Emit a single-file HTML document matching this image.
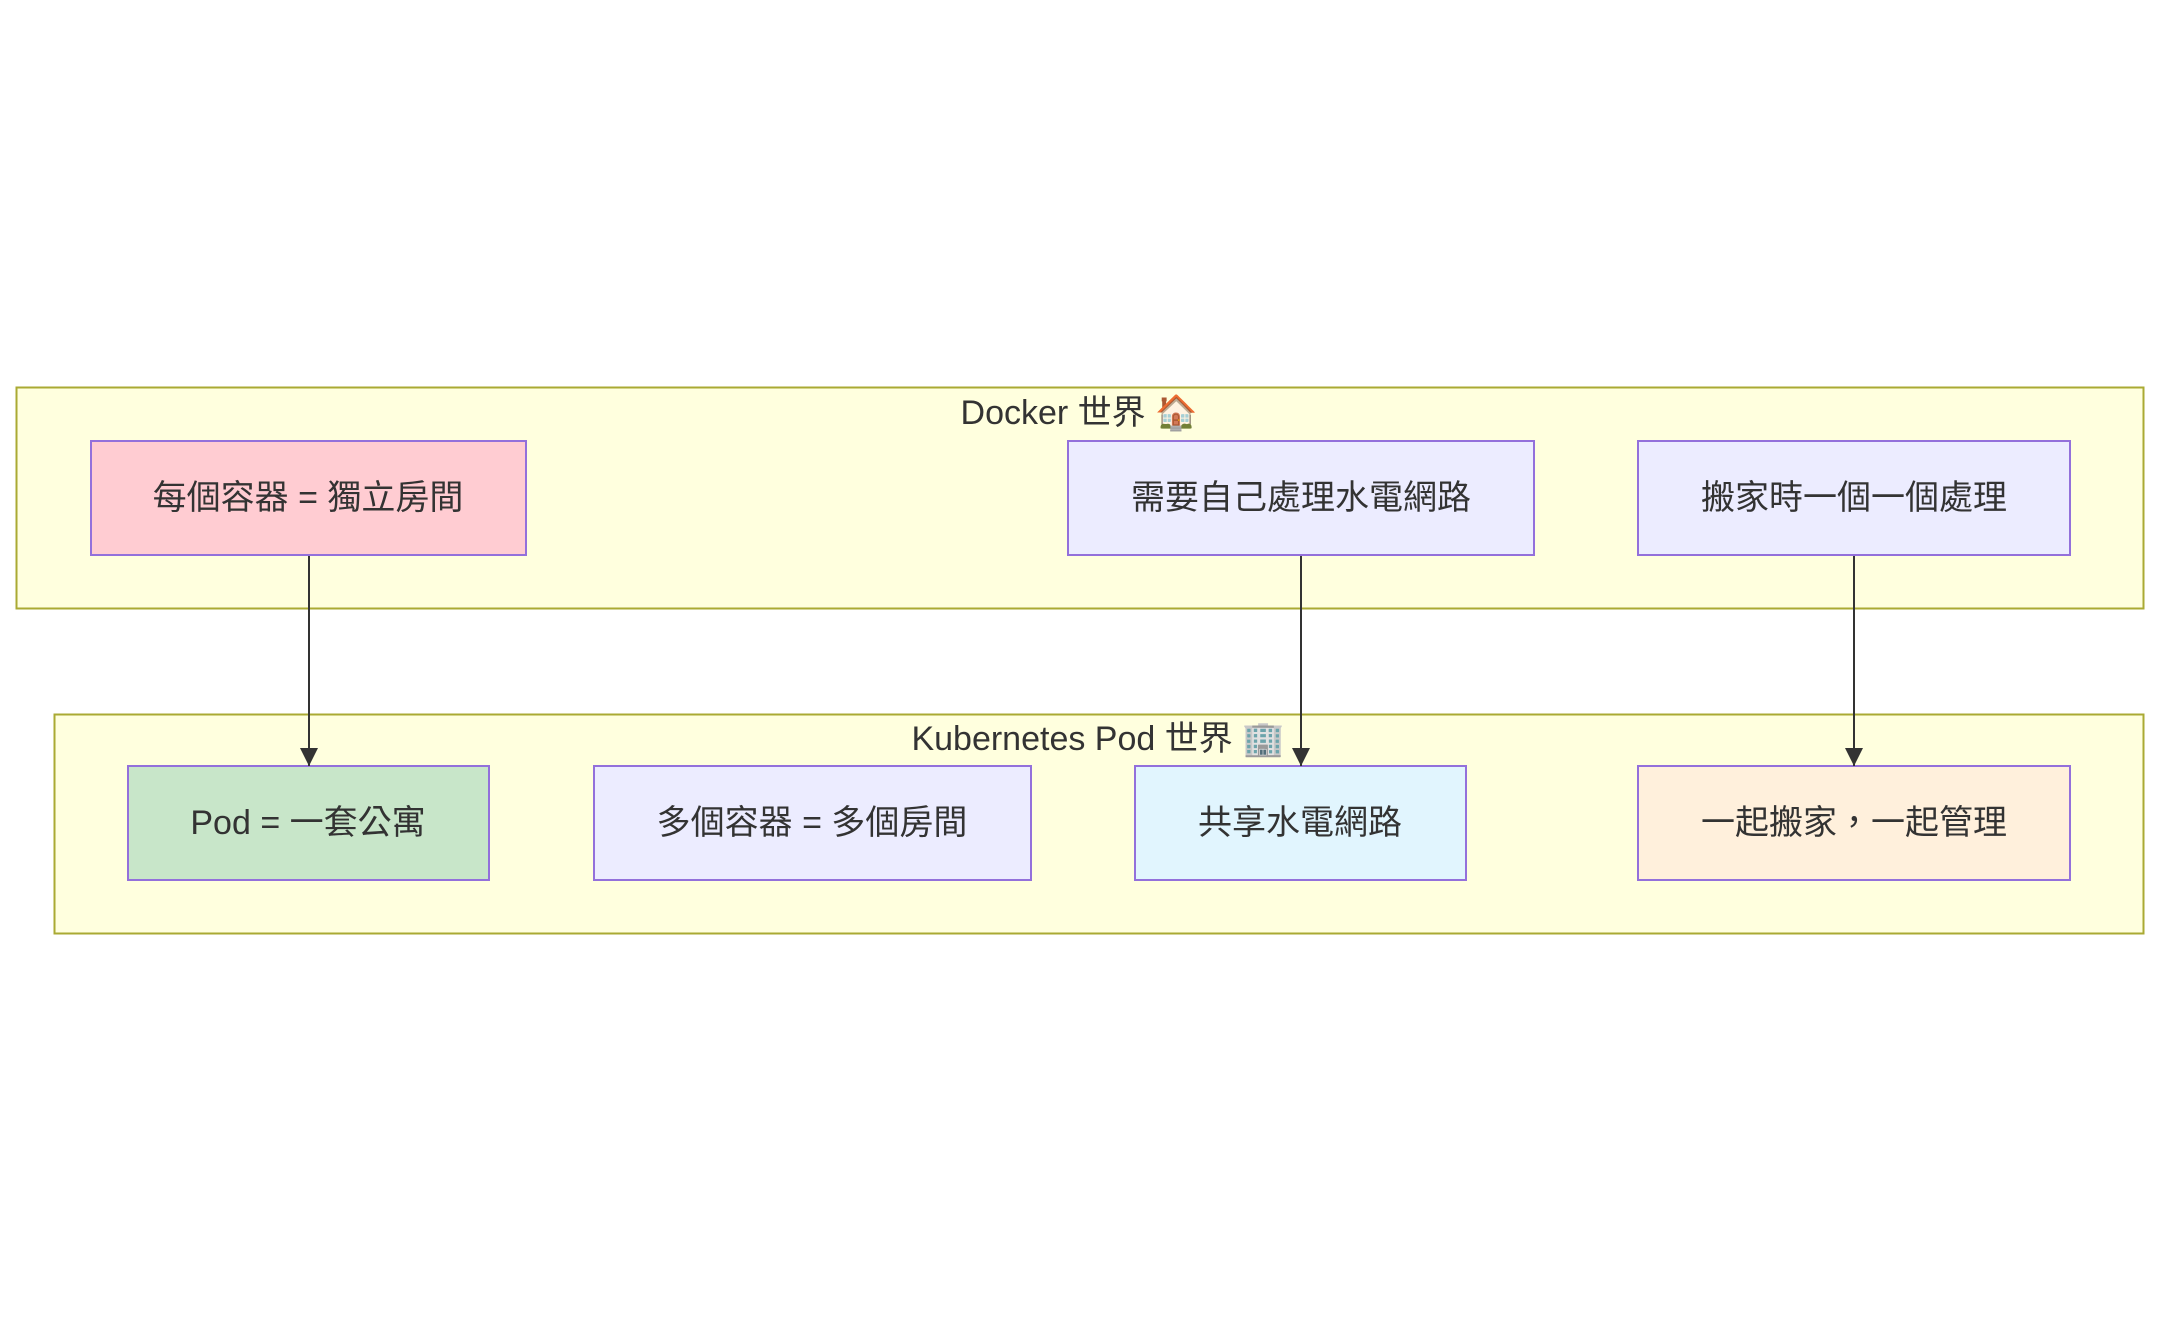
<!DOCTYPE html>
<html><head><meta charset="utf-8"><style>
html,body{margin:0;padding:0;background:#fff;}
svg{display:block}
text{font-family:"Liberation Sans","Noto Sans CJK TC",sans-serif;font-size:34px;fill:#333;}
</style></head><body>
<svg width="2161" height="1321" viewBox="0 0 2161 1321" xmlns="http://www.w3.org/2000/svg">
<defs>
<marker id="b" viewBox="0 0 10 10" refX="10" refY="5" markerWidth="18" markerHeight="18" markerUnits="userSpaceOnUse" orient="auto"><path d="M0,0L10,5L0,10z" fill="#333"/></marker></defs>
<rect x="16.5" y="387.5" width="2127" height="221" fill="#ffffde" stroke="#aaaa33" stroke-width="2"/>
<rect x="54.5" y="714.5" width="2089" height="219" fill="#ffffde" stroke="#aaaa33" stroke-width="2"/>
<text x="1079" y="424" text-anchor="middle">Docker 世界 🏠</text>
<text x="1098" y="750" text-anchor="middle">Kubernetes Pod 世界 🏢</text>
<g stroke="#9370db" stroke-width="2">
<rect x="91" y="441" width="435" height="114" fill="#ffccd2"/>
<rect x="1068" y="441" width="466" height="114" fill="#ececff"/>
<rect x="1638" y="441" width="432" height="114" fill="#ececff"/>
<rect x="128" y="766" width="361" height="114" fill="#c8e6c9"/>
<rect x="594" y="766" width="437" height="114" fill="#ececff"/>
<rect x="1135" y="766" width="331" height="114" fill="#e1f5fe"/>
<rect x="1638" y="766" width="432" height="114" fill="#fff0dc"/>
</g>
<g text-anchor="middle">
<text x="308" y="509">每個容器 = 獨立房間</text>
<text x="1301" y="509">需要自己處理水電網路</text>
<text x="1854" y="509">搬家時一個一個處理</text>
<text x="308" y="834">Pod = 一套公寓</text>
<text x="812" y="834">多個容器 = 多個房間</text>
<text x="1300" y="834">共享水電網路</text>
<text x="1854" y="834">一起搬家，一起管理</text>
</g>
<g stroke="#333" stroke-width="2">
<line x1="309" y1="556" x2="309" y2="766" marker-end="url(#b)"/>
<line x1="1301" y1="556" x2="1301" y2="766" marker-end="url(#b)"/>
<line x1="1854" y1="556" x2="1854" y2="766" marker-end="url(#b)"/>
</g>
</svg>
</body></html>
